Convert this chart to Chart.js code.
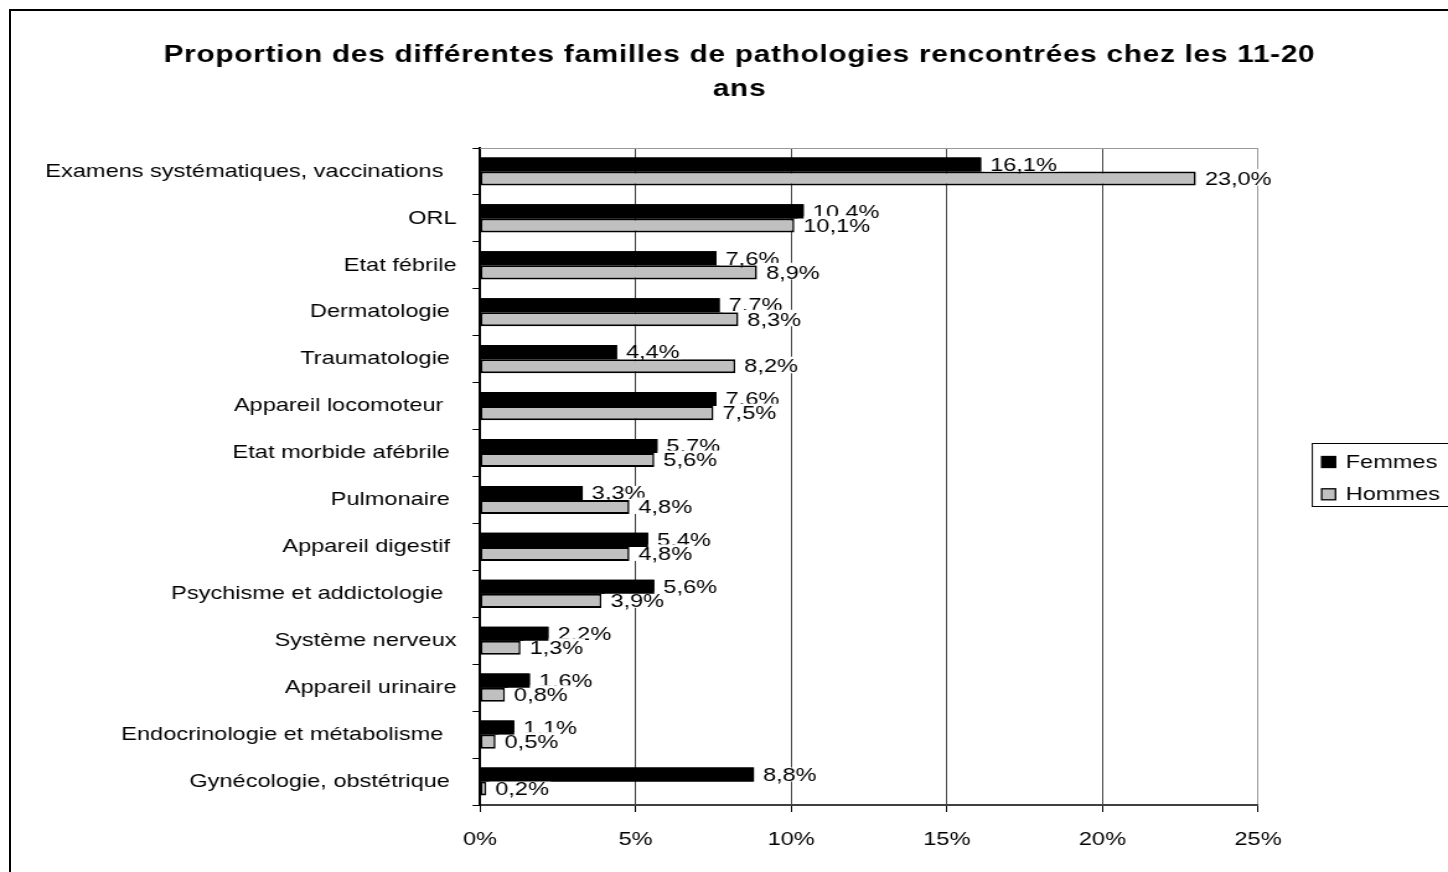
<!DOCTYPE html>
<html lang="fr">
<head>
<meta charset="UTF-8">
<title>Pathologies 11-20 ans</title>
<script src="https://cdn.jsdelivr.net/npm/chart.js"></script>
<style>
  html, body { margin: 0; padding: 0; background: #fff; overflow: hidden; }
  body { width: 1448px; height: 872px; position: relative; }
  /* outer chart frame, cut off on the right and bottom like the source */
  .frame { position: absolute; left: 9px; top: 9px; width: 1470px; height: 900px; border: 2px solid #000; }
  /* the source picture is stretched horizontally, so the chart is too */
  .stretch { position: absolute; left: 0; top: 0; width: 1168px; height: 872px; transform: scaleX(1.2397); transform-origin: 0 0; }
</style>
</head>
<body>
<div class="frame"></div>
<div class="stretch"><canvas id="chart"></canvas></div>

<script>
// trailing spaces kept as in the spreadsheet labels
const categories = [
  'Examens systématiques, vaccinations  ',
  'ORL',
  'Etat fébrile',
  'Dermatologie ',
  'Traumatologie ',
  'Appareil locomoteur  ',
  'Etat morbide afébrile ',
  'Pulmonaire ',
  'Appareil digestif ',
  'Psychisme et addictologie  ',
  'Système nerveux',
  'Appareil urinaire',
  'Endocrinologie et métabolisme  ',
  'Gynécologie, obstétrique '
];
const femmes = [16.1, 10.4, 7.6, 7.7, 4.4, 7.6, 5.7, 3.3, 5.4, 5.6, 2.2, 1.6, 1.1, 8.8];
const hommes = [23.0, 10.1, 8.9, 8.3, 8.2, 7.5, 5.6, 4.8, 4.8, 3.9, 1.3, 0.8, 0.5, 0.2];
const xMin = 0, xMax = 25, xStep = 5;
const titleLines = ['Proportion des différentes familles de pathologies rencontrées chez les 11-20', 'ans'];

const FAMILY = "'Liberation Sans', Arial, sans-serif";
Chart.defaults.font.family = FAMILY;
Chart.defaults.font.size = 19;
Chart.defaults.color = '#000';

const pct = v => v.toFixed(1).replace('.', ',') + '%';

// gray border on top of the plot area (left/bottom are the axes)
const plotBorder = {
  id: 'plotBorder',
  beforeDatasetsDraw(chart) {
    const { ctx, chartArea: a } = chart;
    ctx.save();
    ctx.strokeStyle = '#999';
    ctx.lineWidth = 1;
    ctx.beginPath();
    ctx.moveTo(a.left, a.top + 0.5);
    ctx.lineTo(a.right, a.top + 0.5);
    ctx.stroke();
    ctx.restore();
  }
};

// value labels with white background, Excel style
const valueLabels = {
  id: 'valueLabels',
  afterDatasetsDraw(chart) {
    const ctx = chart.ctx;
    ctx.save();
    ctx.font = '19px ' + FAMILY;
    ctx.textAlign = 'left';
    ctx.textBaseline = 'middle';
    const draw = (di, up, down) => {
      const vals = chart.data.datasets[di].data;
      chart.getDatasetMeta(di).data.forEach((bar, i) => {
        const txt = pct(vals[i]);
        const w = ctx.measureText(txt).width;
        const tx = bar.x + 7.3;
        ctx.fillStyle = '#fff';
        ctx.fillRect(bar.x + 2.5, bar.y - up, tx - bar.x - 2.5 + w + 1.5, up + down);
        ctx.fillStyle = '#000';
        ctx.fillText(txt, tx, bar.y + 1);
      });
    };
    draw(0, 7, 7);
    draw(1, 9.5, 7);
    // femmes bars stay on top of the hommes label boxes
    chart.getDatasetMeta(0).data.forEach(bar => bar.draw(ctx));
    ctx.restore();
  }
};

const sideLegend = {
  id: 'sideLegend',
  afterDraw(chart) {
    const ctx = chart.ctx;
    ctx.save();
    ctx.strokeStyle = '#000';
    ctx.lineWidth = 1;
    ctx.strokeRect(1058.6, 443.5, 130, 63);
    ctx.font = '19px ' + FAMILY;
    ctx.textBaseline = 'middle';
    ctx.textAlign = 'left';
    const rows = [456.5, 488.8];
    chart.data.datasets.forEach((ds, i) => {
      ctx.fillStyle = ds.backgroundColor;
      ctx.fillRect(1066.1, rows[i], 11.2, 11);
      ctx.lineWidth = 1.3;
      ctx.strokeStyle = '#000';
      ctx.strokeRect(1066.1, rows[i], 11.2, 11);
      ctx.fillStyle = '#000';
      ctx.fillText(ds.label, 1085.5, rows[i] + 6);
    });
    ctx.restore();
  }
};

const chartTitle = {
  id: 'chartTitle',
  afterDraw(chart) {
    const ctx = chart.ctx;
    ctx.save();
    ctx.font = 'bold 24px ' + FAMILY;
    if ('letterSpacing' in ctx) ctx.letterSpacing = '0.6px';
    ctx.textAlign = 'center';
    ctx.textBaseline = 'alphabetic';
    ctx.fillStyle = '#000';
    titleLines.forEach((t, i) => ctx.fillText(t, 596.5, 62 + i * 34));
    ctx.restore();
  }
};

new Chart(document.getElementById('chart'), {
  type: 'bar',
  data: {
    labels: categories,
    datasets: [
      { label: 'Femmes', data: femmes, backgroundColor: '#000000', borderColor: '#000', borderWidth: 0 },
      { label: 'Hommes', data: hommes, backgroundColor: '#c0c0c0', borderColor: '#000',
        borderWidth: { top: 2, bottom: 2, left: 1.6, right: 1.6 }, borderSkipped: false }
    ]
  },
  options: {
    indexAxis: 'y',
    responsive: true,
    maintainAspectRatio: false,
    animation: false,
    layout: { padding: { top: 148, right: 153.2, bottom: 0, left: 0 } },
    datasets: { bar: { categoryPercentage: 0.6, barPercentage: 1 } },
    scales: {
      x: {
        min: xMin, max: xMax,
        ticks: { stepSize: xStep, callback: v => v + '%', padding: 16, maxRotation: 0 },
        grid: {
          color: c => (c.tick && c.tick.value === xMax) ? '#999' : '#444',
          lineWidth: 1, tickColor: '#000', tickLength: 7
        },
        border: { color: '#404040', width: 2 },
        afterFit: s => { s.height = 67; }
      },
      y: {
        ticks: { padding: 13, autoSkip: false },
        grid: { drawOnChartArea: false, tickColor: '#000', tickLength: 6, offset: true },
        border: { color: '#000', width: 2 },
        afterFit: s => { s.width = 387.2; }
      }
    },
    plugins: { legend: { display: false }, title: { display: false }, tooltip: { enabled: false } }
  },
  plugins: [plotBorder, valueLabels, sideLegend, chartTitle]
});
</script>
</body>
</html>
